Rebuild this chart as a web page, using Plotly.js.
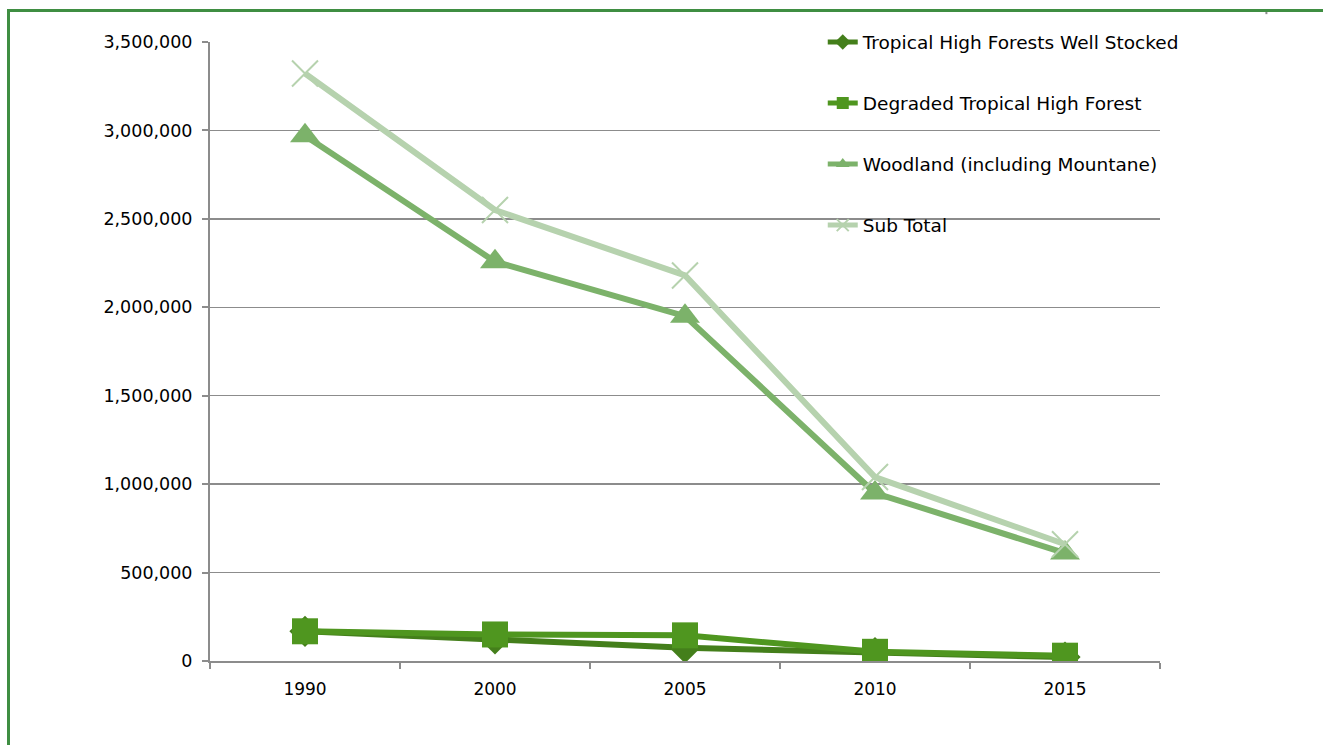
<!DOCTYPE html>
<html>
<head>
<meta charset="utf-8">
<script src="https://cdn.plot.ly/plotly-3.0.1.min.js"></script>
<style>
html,body{margin:0;padding:0;background:#fff;}
#chart{width:1323px;height:745px;}
#frame{position:absolute;left:7px;top:9px;width:2000px;height:2000px;border-left:3px solid #3f8e42;border-top:3px solid #3f8e42;pointer-events:none;}
</style>
</head>
<body>
<div id="chart"></div>
<div id="frame"></div>
<script>
const years = ["1990", "2000", "2005", "2010", "2015"];
const wellStocked = [168000, 125000, 75000, 48000, 22000];
const degraded = [168000, 150000, 145000, 52000, 30000];
const woodland = [2970000, 2258000, 1950000, 950000, 610000];
const subTotal = [3322000, 2550000, 2180000, 1040000, 660000];
const names = ["Tropical High Forests Well Stocked", "Degraded Tropical High Forest", "Woodland (including Mountane)", "Sub Total"];

const traces = [
  {x: years, y: wellStocked, name: names[0], legendgroup: "a", mode: "lines+markers",
   line: {color: "#447f1b", width: 6}, marker: {symbol: "diamond", size: 24, color: "#447f1b"}},
  {x: years, y: degraded, name: names[1], legendgroup: "b", mode: "lines+markers",
   line: {color: "#4f961f", width: 6}, marker: {symbol: "square", size: 26, color: "#4f961f"}},
  {x: years, y: woodland, name: names[2], legendgroup: "c", mode: "lines+markers",
   line: {color: "#7cb26a", width: 6}, marker: {symbol: "triangle-up", size: 26, color: "#7cb26a"}},
  {x: years, y: subTotal, name: names[3], legendgroup: "d", mode: "lines+markers",
   line: {color: "#b6d2ae", width: 6}, marker: {symbol: "x-thin", size: 26, color: "#b6d2ae", line: {color: "#b6d2ae", width: 2}}}
];

const layout = {
  width: 1323, height: 745,
  margin: {l: 210, r: 163, t: 42, b: 84},
  paper_bgcolor: "#ffffff", plot_bgcolor: "#ffffff",
  font: {family: "DejaVu Sans, sans-serif", size: 17, color: "#000"},
  showlegend: true,
  legend: {x: 0.645, xanchor: "left", y: 1.030, yanchor: "top", bgcolor: "rgba(0,0,0,0)",
           font: {size: 18.5, color: "#000"}, tracegroupgap: 34, itemwidth: 30, itemsizing: "constant"},
  xaxis: {type: "category", range: [-0.5, 4.5], showgrid: false, showline: true, linecolor: "#8c8c8c", linewidth: 2,
          ticks: "outside", tickson: "boundaries", ticklen: 6, tickcolor: "#8c8c8c", tickwidth: 2,
          tickfont: {size: 17}, zeroline: false, ticklabelstandoff: 12},
  yaxis: {range: [0, 3500000], dtick: 500000, tickformat: ",d", showgrid: true, gridcolor: "#8c8c8c", gridwidth: 1.5,
          showline: true, linecolor: "#8c8c8c", linewidth: 2, ticks: "outside", ticklen: 6, tickcolor: "#8c8c8c", tickwidth: 2,
          zeroline: false, tickfont: {size: 17.5}, ticklabelstandoff: 6},
  shapes: [{type: "line", xref: "paper", yref: "paper", x0: 1.112, x1: 1.112, y0: 1.045, y1: 1.052,
            line: {color: "#8c8c8c", width: 2}}]
};

Plotly.newPlot("chart", traces, layout, {displayModeBar: false, staticPlot: true});
</script>
</body>
</html>
